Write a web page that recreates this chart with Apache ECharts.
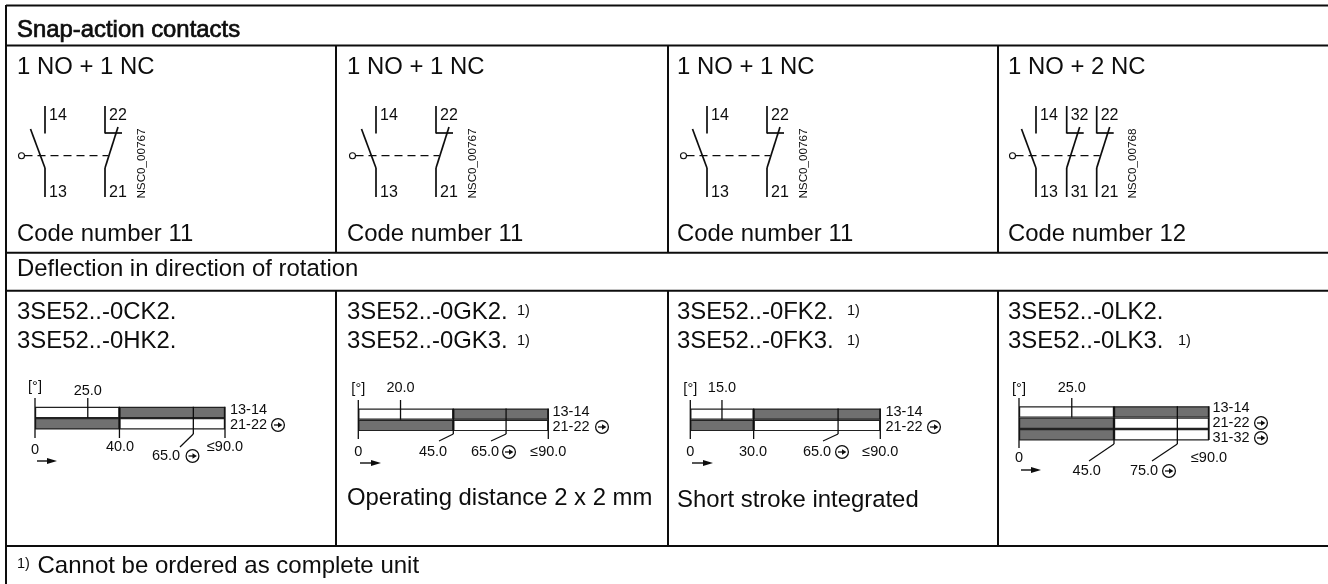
<!DOCTYPE html>
<html><head><meta charset="utf-8">
<style>html,body{margin:0;padding:0;background:#fff}#c{width:1328px;height:584px}</style>
<script src="https://cdn.jsdelivr.net/npm/echarts@6/dist/echarts.min.js"></script>
</head><body><div id="c"></div>
<script>
// ---------- DATA ----------
const tableTitle = 'Snap-action contacts';
const rowTitle = 'Deflection in direction of rotation';
const contactTypes = ['1 NO + 1 NC','1 NO + 1 NC','1 NO + 1 NC','1 NO + 2 NC'];
const codeNumbers = ['Code number 11','Code number 11','Code number 11','Code number 12'];
const drawingIds = ['NSC0_00767','NSC0_00767','NSC0_00767','NSC0_00768'];
const orderLine1 = ['3SE52..-0CK2.','3SE52..-0GK2.','3SE52..-0FK2.','3SE52..-0LK2.'];
const orderLine2 = ['3SE52..-0HK2.','3SE52..-0GK3.','3SE52..-0FK3.','3SE52..-0LK3.'];
const line1Note = [false,true,true,false];
const line2Note = [false,true,true,true];
const cellNotes = ['','Operating distance 2 x 2 mm','Short stroke integrated',''];
const footnoteMark = '1)';
const footnote = 'Cannot be ordered as complete unit';

const contactRows = [['13-14','21-22'],['13-14','21-22'],['13-14','21-22'],['13-14','21-22','31-32']];
const rowCircled  = [[false,true],[false,true],[false,true],[false,true,true]];
const rowClosedFirst = [[false,true],[false,true],[false,true],[false,true,true]];
const firstMark = [25,20,15,25];
const firstMarkLabel = ['25.0','20.0','15.0','25.0'];
const switchPoint = [40,45,30,45];
const switchLabel = ['40.0','45.0','30.0','45.0'];
const openingDrawnAt = [75,70,70,75];
const openingLabel = ['65.0','65.0','65.0','75.0'];
const travelEnd = 90;
const travelLabel = '≤90.0';
const zeroLabel = '0';
const unitLabel = '[°]';

const terminalsTop = [['14','22'],['14','22'],['14','22'],['14','32','22']];
const terminalsBottom = [['13','21'],['13','21'],['13','21'],['13','31','21']];

// ---------- LAYOUT ----------
const INK = '#0d0d0d', GREY = '#707070', FONT = '"Liberation Sans", Arial, sans-serif';
const textX = [17,347,677,1008];
const symX = [0,331,662,991];
const termX = [[45,105],[45,105],[45,105],[45,75.7,105.7]];
const layouts = [
 {left:35,   top:406.7, rowH:11.4, tickTop:398, tickBot:438, unitY:387, markY:391, labY:447, rowLabX:230.5, rowLabY:[410,425], circX:278,
  sw:{bot:438,label:120,y:447}, op:{bot:434,lead:[180,447],label:166,y:456,circ:192.5}, arrow:[37,57,461], zeroY:450, zeroBot:438},
 {left:358.3,top:408.5, rowH:11.3, tickTop:400, tickBot:439, unitY:389, markY:388, labY:452, rowLabX:553,  rowLabY:[412,427], circX:602,
  sw:{bot:434,lead:[439,441],label:433,y:452}, op:{bot:434,lead:[491,441],label:485,y:452,circ:509}, arrow:[360,381,463], zeroY:452, zeroBot:439},
 {left:690.3,top:408.5, rowH:11.3, tickTop:400, tickBot:439, unitY:389, markY:388, labY:452, rowLabX:886,  rowLabY:[412,427], circX:934,
  sw:{bot:439,label:753,y:452}, op:{bot:434,lead:[823,441],label:817,y:452,circ:842}, arrow:[692,713,463], zeroY:452, zeroBot:439},
 {left:1019, top:406.2, rowH:11.4, tickTop:398, tickBot:440, unitY:389, markY:388, labY:458, rowLabX:1213, rowLabY:[408,423,438], circX:1261,
  sw:{bot:444,lead:[1089,461],label:1086.7,y:471}, op:{bot:444,lead:[1152,461],label:1144,y:471,circ:1169}, arrow:[1021,1041,470], zeroY:458, zeroBot:448}
];
const DIAGRAM_W = 190;

// ---------- HELPERS ----------
function txt(x, base, s, size, extra){
  return {type:'text', silent:true, style:Object.assign({x:x, y:base-0.36*size, text:s, fill:INK,
    font:size+'px '+FONT, textAlign:'left', verticalAlign:'middle'}, extra||{})};
}
function ln(x1,y1,x2,y2,w,dash){
  return {type:'line', silent:true, shape:{x1,y1,x2,y2}, style:{stroke:INK, lineWidth:w||1, lineDash:dash||null}};
}
function circleArrow(cx,cy){
  return [
    {type:'circle', silent:true, shape:{cx,cy,r:6.4}, style:{fill:'#fff',stroke:INK,lineWidth:1.25}},
    ln(cx-4,cy,cx+1,cy,1.3),
    {type:'polygon', silent:true, shape:{points:[[cx+4.4,cy],[cx,cy-2.8],[cx,cy+2.8]]}, style:{fill:INK}}
  ];
}
function centered(x,y,s,size){ return txt(x,y+0.36*size,s,size,{textAlign:'center'}); }

// ---------- STATIC TABLE + SYMBOLS (graphic) ----------
const g = [];
[5.5,45.5,252.7,290.7,546].forEach(y=>g.push(ln(6,y,1328,y,2)));
g.push(ln(6,5,6,584,2));
[336,668,998].forEach(x=>{ g.push(ln(x,45,x,253,2)); g.push(ln(x,291,x,546,2)); });

g.push(txt(17,39,tableTitle,23.9,{stroke:INK,lineWidth:0.7}));
g.push(txt(17,278,rowTitle,23.9));
contactTypes.forEach((s,i)=>{
  g.push(txt(textX[i],76,s,23.9));
  g.push(txt(textX[i],243.3,codeNumbers[i],23.9));
  g.push(txt(textX[i],320.7,orderLine1[i],23.9));
  g.push(txt(textX[i],350,orderLine2[i],23.9));
  if(line1Note[i]) g.push(txt(textX[i]+170,316,footnoteMark,14.5));
  if(line2Note[i]) g.push(txt(textX[i]+170,346,footnoteMark,14.5));
});
g.push(txt(347,507.5,cellNotes[1],23.9));
g.push(txt(677,509.5,cellNotes[2],23.9));
g.push(txt(17,569,footnoteMark,14.5));
g.push(txt(37.5,575,footnote,24));

// switching symbols
terminalsTop.forEach((tops,i)=>{
  const off = symX[i], xs = termX[i], n = tops.length;
  const lastX = xs[n-1]+off;
  g.push({type:'circle', silent:true, shape:{cx:21.5+off,cy:155.7,r:3}, style:{fill:'#fff',stroke:INK,lineWidth:1.1}});
  g.push(ln(24.5+off,155.7,lastX+3,155.7,1.3,[8,5]));
  tops.forEach((t,k)=>{
    const x = xs[k]+off;
    g.push(txt(x+4,121,t,16));
    g.push(txt(x+4,198,terminalsBottom[i][k],16));
    g.push(ln(x,106,x,133.5,1.7));
    g.push(ln(x,168,x,197,1.7));
    if(k===0){
      g.push(ln(x-14.5,129,x,168,1.7));
    } else {
      g.push(ln(x,133,x+17,133,1.7));
      g.push(ln(x,168,x+13,127,1.7));
    }
  });
  const nx = (i===3?1132.7:141.7+off);
  g.push({type:'text', silent:true, rotation:Math.PI/2, x:nx, y:163.5,
    style:{x:0,y:0,text:drawingIds[i],fill:INK,font:'11.7px '+FONT,textAlign:'center',verticalAlign:'middle'}});
});

// ---------- DIAGRAMS (grids, bars, custom marks) ----------
const grids=[], xAxes=[], yAxes=[], series=[];
contactRows.forEach((rows,i)=>{
  const L = layouts[i];
  grids.push({left:L.left, top:L.top, width:DIAGRAM_W, height:rows.length*L.rowH, containLabel:false});
  xAxes.push({type:'value', gridIndex:i, min:0, max:travelEnd, show:false});
  yAxes.push({type:'category', gridIndex:i, data:rows, inverse:true, show:false});
  const style = closed => ({color: closed?GREY:'#fff', borderColor:'#222', borderWidth:1.2});
  series.push({type:'bar', xAxisIndex:i, yAxisIndex:i, stack:'d'+i, barWidth:'100%', silent:true,
    data: rows.map((r,k)=>({value:switchPoint[i], itemStyle:style(rowClosedFirst[i][k])}))});
  series.push({type:'bar', xAxisIndex:i, yAxisIndex:i, stack:'d'+i, barWidth:'100%', silent:true,
    data: rows.map((r,k)=>({value:travelEnd-switchPoint[i], itemStyle:style(!rowClosedFirst[i][k])}))});

  // vertical marks
  const marks = [
    {v:0, top:L.tickTop, bot:L.zeroBot, label:zeroLabel, lx:L.left, ly:L.zeroY},
    {v:firstMark[i], top:L.tickTop, bot:L.top+L.rowH, label:firstMarkLabel[i], lx:null, ly:L.markY},
    {v:switchPoint[i], top:L.top, bot:L.sw.bot, lead:L.sw.lead, label:switchLabel[i], lx:L.sw.label, ly:L.sw.y},
    {v:openingDrawnAt[i], top:L.top, bot:L.op.bot, lead:L.op.lead, label:openingLabel[i], lx:L.op.label, ly:L.op.y, circ:L.op.circ},
    {v:travelEnd, top:L.top, bot:L.tickBot, label:travelLabel, lx:null, ly:L.labY}
  ];
  series.push({type:'custom', xAxisIndex:i, yAxisIndex:i, silent:true, z:5, clip:false,
    data: marks.map(m=>[m.v,0]), encode:{x:0,y:1},
    renderItem:(p,api)=>{
      const m = marks[p.dataIndex], x = api.coord([api.value(0),0])[0];
      const ch = [ln(x,m.top,x,m.bot,1.3)];
      if(m.lead) ch.push(ln(x,m.bot,m.lead[0],m.lead[1],1.2));
      ch.push(centered(m.lx==null?x:m.lx, m.ly, m.label, 14.5));
      if(m.circ) ch.push(...circleArrow(m.circ,m.ly));
      return {type:'group', children:ch};
    }});
  // unit label, direction arrow, row labels
  g.push(centered(L.left,L.unitY,unitLabel,14.5));
  g.push(ln(L.arrow[0],L.arrow[2],L.arrow[1]-5,L.arrow[2],1.4));
  g.push({type:'polygon',silent:true,shape:{points:[[L.arrow[1],L.arrow[2]],[L.arrow[1]-10,L.arrow[2]-3],[L.arrow[1]-10,L.arrow[2]+3]]},style:{fill:INK}});
  rows.forEach((r,k)=>{
    g.push(centered(L.rowLabX+18,L.rowLabY[k],r,14.5));
    if(rowCircled[i][k]) g.push(...circleArrow(L.circX,L.rowLabY[k]));
  });
});

const chart = echarts.init(document.getElementById('c'), null, {width:1328,height:584});
chart.setOption({animation:false, backgroundColor:'#fff', tooltip:{show:false},
  grid:grids, xAxis:xAxes, yAxis:yAxes, series:series, graphic:{elements:g}});
</script></body></html>
